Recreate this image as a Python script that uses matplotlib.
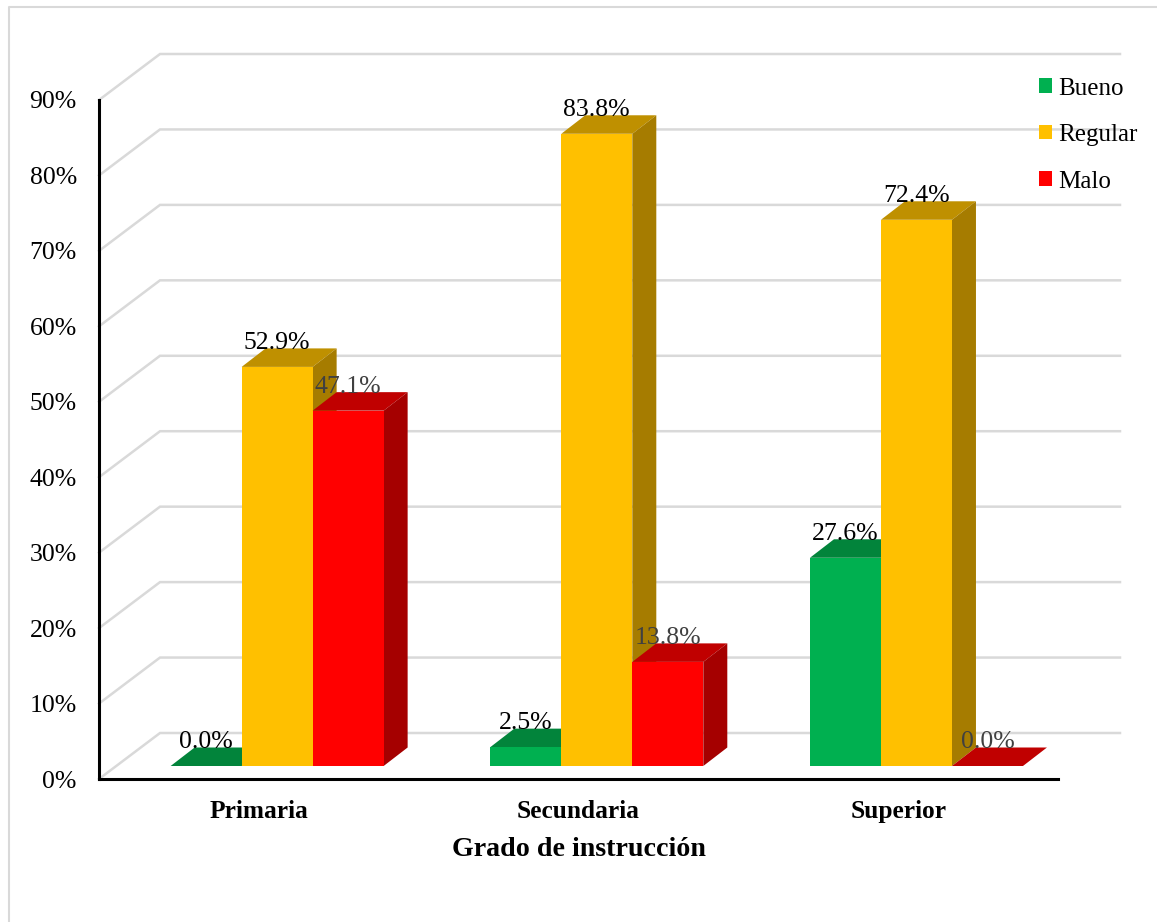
import matplotlib
matplotlib.use("Agg")
import matplotlib.pyplot as plt
from matplotlib.lines import Line2D
from matplotlib.patches import Patch, Polygon

categorias = ["Primaria", "Secundaria", "Superior"]
series = ["Bueno", "Regular", "Malo"]
bueno = [0.0, 2.5, 27.6]
regular = [52.9, 83.8, 72.4]
malo = [47.1, 13.8, 0.0]
marcas_y = [0, 10, 20, 30, 40, 50, 60, 70, 80, 90]

colores = ["#00b050", "#ffc000", "#ff0000"]
colores_arriba = ["#02843b", "#bf9000", "#c00000"]
colores_lado = ["#00803a", "#a67c00", "#a50000"]
colores_texto = ["#000000", "#000000", "#404040"]
fuente = "Liberation Serif"

W, H = 1157, 922
fig = plt.figure(figsize=(W / 100, H / 100), dpi=100)
ax = fig.add_axes([99 / W, 1 - 779 / H, 959 / W, 679 / H])
ax.set_xlim(0, 3)
ax.set_ylim(0, 90)

# cuantos pixeles vale una unidad en cada eje, para la falsa profundidad 3D
px_x = 959 / 3
px_y = 679 / 90
ancho = 71 / px_x
frente_x, frente_y = 18.3 / px_x, 13 / px_y
prof_x, prof_y = 24 / px_x, 18.5 / px_y
fondo_x, fondo_y = 61 / px_x, 46 / px_y
fin_x = (1120 - 99) / px_x

# pared del fondo
for v in marcas_y:
    ax.plot([0, fondo_x, fin_x], [v, v + fondo_y, v + fondo_y], color="#d9d9d9",
            lw=1.8, clip_on=False, zorder=1, solid_joinstyle="miter")

valores = [bueno, regular, malo]
z = 2
for i in range(len(categorias)):
    for j in range(len(series)):
        v = valores[j][i]
        x0 = i + 0.5 + (j - 1) * ancho - ancho / 2 + frente_x
        x1 = x0 + ancho
        y0 = frente_y
        y1 = v + frente_y
        # cara superior y cara lateral, antes del frente de la barra
        ax.add_patch(Polygon([(x0, y1), (x1, y1), (x1 + prof_x, y1 + prof_y), (x0 + prof_x, y1 + prof_y)],
                             color=colores_arriba[j], lw=0, clip_on=False, zorder=z))
        ax.add_patch(Polygon([(x1, y0), (x1 + prof_x, y0 + prof_y), (x1 + prof_x, y1 + prof_y), (x1, y1)],
                             color=colores_lado[j], lw=0, clip_on=False, zorder=z))
        ax.bar(x0, v, width=ancho, bottom=y0, align="edge", color=colores[j], lw=0,
               clip_on=False, zorder=z + 0.5)
        ax.text((x0 + x1) / 2, y1 + 24 / px_y, f"{v:.1f}%", ha="center", va="center",
                fontsize=18.5, family=fuente, color=colores_texto[j], zorder=50)
        z += 1

for lado in ["top", "right"]:
    ax.spines[lado].set_visible(False)
for lado in ["left", "bottom"]:
    ax.spines[lado].set_linewidth(2.2)
    ax.spines[lado].set_color("black")
    ax.spines[lado].set_zorder(60)

ax.set_yticks(marcas_y)
ax.set_yticklabels([f"{v}%" for v in marcas_y], fontsize=18.5, family=fuente)
ax.set_xticks([0.5, 1.5, 2.5])
ax.set_xticklabels(categorias, fontsize=18.3, family=fuente, fontweight="bold")
ax.tick_params(axis="y", length=0, pad=16)
ax.tick_params(axis="x", length=0, pad=15)
ax.set_xlabel("Grado de instrucción", fontsize=20.2, family=fuente, fontweight="bold", labelpad=10.5)

handles = [Patch(facecolor=c, lw=0, label=s) for c, s in zip(colores, series)]
ax.legend(handles=handles, loc="upper left", bbox_to_anchor=(1039 / W, 1 - 77.5 / H),
          bbox_transform=fig.transFigure, frameon=False, borderpad=0, borderaxespad=0,
          prop={"family": fuente, "size": 18}, handlelength=0.52, handleheight=0.52,
          handletextpad=0.24, labelspacing=0.98)

# marco gris de la hoja
fig.add_artist(Line2D([9 / W, 9 / W, 1], [0, 1 - 7 / H, 1 - 7 / H], color="#d9d9d9", lw=1.5))

fig.savefig("out.png", dpi=100)
